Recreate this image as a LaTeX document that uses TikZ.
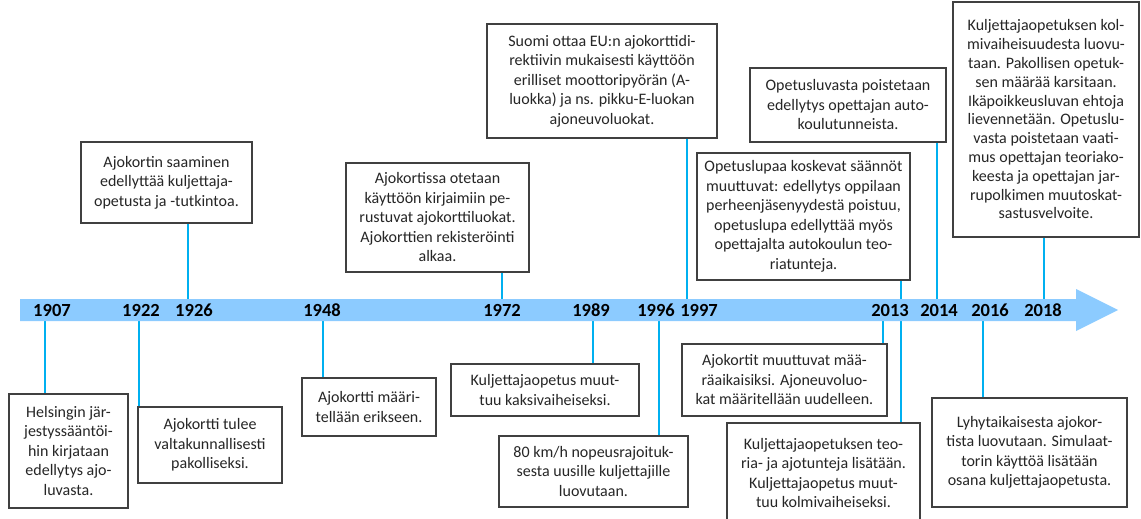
\documentclass[tikz,border=0pt]{standalone}
\usepackage{fontspec}
\setmainfont{Carlito}
\definecolor{band}{HTML}{8CCBFF}
\definecolor{stemblue}{HTML}{00B0F0}
\definecolor{frame}{HTML}{404040}
\definecolor{ink}{HTML}{262626}
\tikzset{x=1pt,y=-1pt,
  note/.style={draw=frame,line width=1.3pt,fill=white,align=center,inner sep=0pt,
    text=ink,font=\fontsize{16}{19.5}\selectfont},
  year/.style={inner sep=0pt,text=black,font=\fontsize{18.5}{20}\selectfont\bfseries},
  stem/.style={draw=stemblue,line width=2pt}}
\begin{document}
\begin{tikzpicture}
\useasboundingbox (0,0) rectangle (1141,519);
% boxes below the band
\node[note,minimum width=119,minimum height=114] (n1907) at (68.5,451) {Helsingin jär-\\jestyssääntöi-\\hin kirjataan\\edellytys ajo-\\luvasta.};
\node[note,minimum width=144,minimum height=76] (n1922) at (210,445) {Ajokortti tulee\\valtakunnallisesti\\pakolliseksi.};
\node[note,minimum width=134,minimum height=58] (n1948) at (369,407) {Ajokortti määri-\\tellään erikseen.};
\node[note,minimum width=188,minimum height=52] (n1989) at (545,390) {Kuljettajaopetus muut-\\tuu kaksivaiheiseksi.};
\node[note,minimum width=189,minimum height=71] (n1996) at (593.5,471.5) {80 km/h nopeusrajoituk-\\sesta uusille kuljettajille\\luovutaan.};
\node[note,minimum width=205,minimum height=72] (n2013b) at (784.5,380) {Ajokortit muuttuvat mää-\\räaikaisiksi. Ajoneuvoluo-\\kat määritellään uudelleen.};
\node[note,minimum width=193,minimum height=100] (n2013c) at (823.5,473) {Kuljettajaopetuksen teo-\\ria- ja ajotunteja lisätään.\\Kuljettajaopetus muut-\\tuu kolmivaiheiseksi.};
\node[note,minimum width=195,minimum height=109] (n2016) at (1029.5,452.5) {Lyhytaikaisesta ajokor-\\tista luovutaan. Simulaat-\\torin käyttöä lisätään\\osana kuljettajaopetusta.};
% boxes above the band
\node[note,minimum width=171,minimum height=81] (n1926) at (166.5,182.5) {Ajokortin saaminen\\edellyttää kuljettaja-\\opetusta ja -tutkintoa.};
\node[note,minimum width=183,minimum height=109] (n1972) at (437.5,217.5) {Ajokortissa otetaan\\käyttöön kirjaimiin pe-\\rustuvat ajokorttiluokat.\\Ajokorttien rekisteröinti\\alkaa.};
\node[note,minimum width=230,minimum height=114] (n1997) at (602,81) {Suomi ottaa EU:n ajokorttidi-\\rektiivin mukaisesti käyttöön\\erilliset moottoripyörän (A-\\luokka) ja ns. pikku-E-luokan\\ajoneuvoluokat.};
\node[note,minimum width=213,minimum height=127] (n2013a) at (803.5,216.5) {Opetuslupaa koskevat säännöt\\muuttuvat: edellytys oppilaan\\perheenjäsenyydestä poistuu,\\opetuslupa edellyttää myös\\opettajalta autokoulun teo-\\riatunteja.};
\node[note,minimum width=196,minimum height=74] (n2014) at (848,105) {Opetusluvasta poistetaan\\edellytys opettajan auto-\\koulutunneista.};
\node[note,minimum width=186,minimum height=235,font=\fontsize{16}{18.8}\selectfont] (n2018) at (1046,119.5) {Kuljettajaopetuksen kol-\\mivaiheisuudesta luovu-\\taan. Pakollisen opetuk-\\sen määrää karsitaan.\\Ikäpoikkeusluvan ehtoja\\lievennetään. Opetuslu-\\vasta poistetaan vaati-\\mus opettajan teoriako-\\keesta ja opettajan jar-\\rupolkimen muutoskat-\\sastusvelvoite.};
% stems
\foreach \x/\b in {45/n1907,139/n1922,323/n1948,593/n1989,659/n1996,883/n2013b,901/n2013c,983/n2016}{
  \coordinate (s) at (\x,321);
  \draw[stem] (s) -- (s |- \b.north);}
\foreach \x/\b in {188/n1926,502/n1972,687/n1997,901/n2013a,937/n2014,1044/n2018}{
  \coordinate (s) at (\x,299);
  \draw[stem] (s) -- (s |- \b.south);}
% time line
\fill[band] (20,299) -- (1076,299) -- (1076,289) -- (1118,310) -- (1076,331) -- (1076,321) -- (20,321) -- cycle;
\foreach \yr/\x in {1907/52,1922/141,1926/194,1948/322,1972/502,1989/591,1996/656,1997/699,2013/890,2014/939,2016/990,2018/1043}
  \node[year] (y\yr) at (\x,310) {\yr};
\end{tikzpicture}
\end{document}
